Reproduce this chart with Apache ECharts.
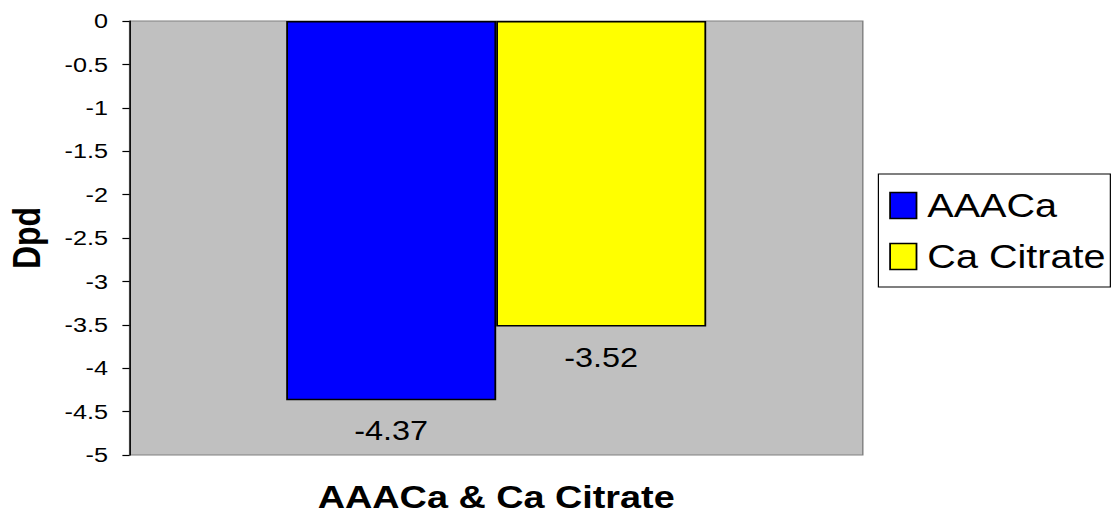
<!DOCTYPE html>
<html>
<head>
<meta charset="utf-8">
<script src="https://cdn.jsdelivr.net/npm/echarts@6/dist/echarts.min.js"></script>
<style>
  html, body { margin: 0; padding: 0; background: #ffffff; overflow: hidden; }
  /* chart is laid out on a narrower canvas and widened horizontally */
  #chart { width: 931px; height: 523px; transform: scaleX(1.2); transform-origin: 0 0; }
</style>
</head>
<body>
<div id="chart"></div>
<script>
const categories = ['AAACa & Ca Citrate'];
const seriesNames = ['AAACa', 'Ca Citrate'];
const aaacaValues = [-4.37];
const citrateValues = [-3.52];
const yAxisName = 'Dpd';
const xAxisName = 'AAACa & Ca Citrate';

const FONT = '"Liberation Sans", Arial, Helvetica, sans-serif';

const chart = echarts.init(document.getElementById('chart'), null, { renderer: 'svg' });

const barLabel = {
  show: true,
  position: 'outside',
  distance: 17,
  color: '#000',
  fontFamily: FONT,
  fontSize: 27
};

chart.setOption({
  animation: false,
  backgroundColor: '#ffffff',
  textStyle: { fontFamily: FONT },
  grid: {
    left: 108,
    right: 212,
    top: 21,
    bottom: 68,
    containLabel: false,
    outerBoundsMode: 'none',
    show: true,
    backgroundColor: '#c0c0c0',
    borderColor: '#808080',
    borderWidth: 1.2
  },
  legend: {
    data: seriesNames,
    orient: 'vertical',
    left: 732,
    top: 174,
    padding: [15, 4, 14, 9],
    itemWidth: 22,
    itemHeight: 26,
    itemGap: 18,
    borderColor: '#000',
    borderWidth: 1,
    backgroundColor: '#ffffff',
    icon: 'rect',
    itemStyle: { borderColor: '#000', borderWidth: 1.5 },
    textStyle: {
      fontFamily: FONT,
      fontSize: 33,
      lineHeight: 33,
      color: '#000',
      padding: [0, 0, 0, 4]
    }
  },
  xAxis: {
    type: 'category',
    data: categories,
    position: 'bottom',
    axisLine: { show: false, onZero: false },
    axisTick: { show: false },
    axisLabel: { show: false },
    splitLine: { show: false },
    name: xAxisName,
    nameLocation: 'middle',
    nameGap: 26,
    nameTextStyle: {
      fontFamily: FONT,
      fontSize: 31.5,
      fontWeight: 'bold',
      color: '#000'
    }
  },
  yAxis: {
    type: 'value',
    min: -5,
    max: 0,
    interval: 0.5,
    axisLine: { show: true, lineStyle: { color: '#000', width: 1.2 } },
    axisTick: { show: true, inside: false, length: 6, lineStyle: { color: '#000', width: 1.2 } },
    axisLabel: {
      margin: 18,
      color: '#000',
      fontFamily: FONT,
      fontSize: 21
    },
    splitLine: { show: false },
    name: yAxisName,
    nameLocation: 'middle',
    nameGap: 70,
    nameRotate: 90,
    nameTextStyle: {
      fontFamily: FONT,
      fontSize: 32,
      fontWeight: 'bold',
      color: '#000'
    }
  },
  series: [
    {
      name: seriesNames[0],
      type: 'bar',
      data: aaacaValues,
      barWidth: 175,
      barGap: '0%',
      itemStyle: { color: '#0000ff', borderColor: '#000', borderWidth: 1.5 },
      label: barLabel
    },
    {
      name: seriesNames[1],
      type: 'bar',
      data: citrateValues,
      barWidth: 175,
      barGap: '0%',
      itemStyle: { color: '#ffff00', borderColor: '#000', borderWidth: 1.5 },
      label: barLabel
    }
  ]
});
</script>
</body>
</html>
